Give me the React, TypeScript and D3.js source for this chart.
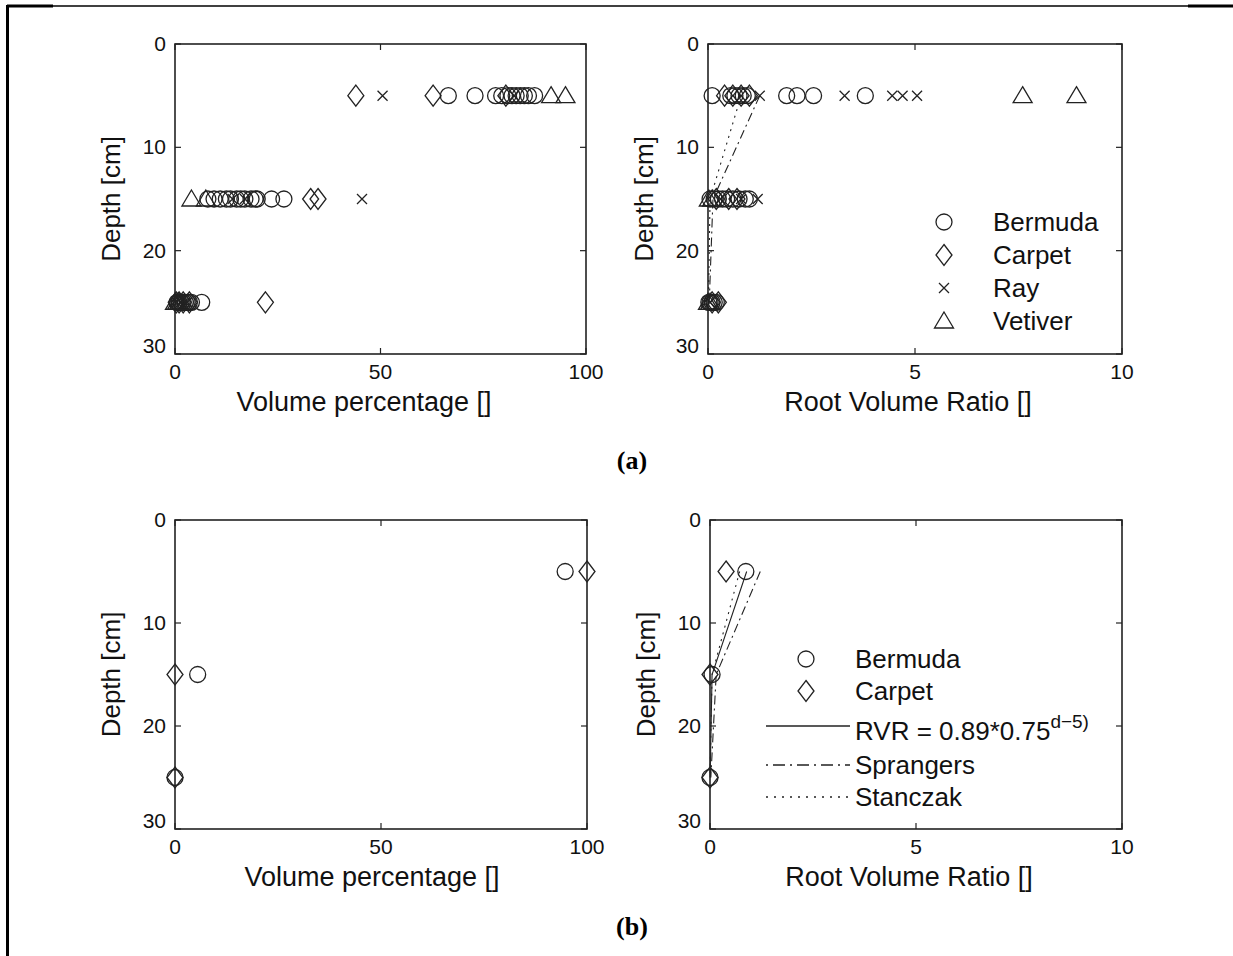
import React from "react";
import * as d3 from "d3";

// ---------- data ----------
const depthTicks = [0, 10, 20, 30];
const volTicks = [0, 50, 100];
const rvrTicks = [0, 5, 10];

// (a) volume percentage : [value, depth]
const aVolBermuda: [number, number][] = [
  [66.5, 5], [73, 5], [78, 5], [79.5, 5], [81, 5], [82, 5], [83, 5], [84, 5], [85, 5], [86, 5], [87.5, 5],
  [8, 15], [9.5, 15], [11, 15], [12.5, 15], [13.5, 15], [15, 15], [16, 15], [17, 15], [18.5, 15], [19.5, 15], [20, 15], [23.5, 15], [26.5, 15],
  [0.5, 25], [1, 25], [1.5, 25], [2, 25], [2.5, 25], [3, 25], [3.5, 25], [4, 25], [6.5, 25],
];
const aVolCarpet: [number, number][] = [
  [44, 5], [62.8, 5], [80.5, 5],
  [33, 15], [34.8, 15],
  [0.3, 25], [1, 25], [2, 25], [3.5, 25], [22, 25],
];
const aVolRay: [number, number][] = [
  [50.5, 5], [82.5, 5],
  [14, 15], [17, 15], [45.5, 15],
  [0.5, 25], [1.5, 25], [2.5, 25], [3, 25],
];
const aVolVetiver: [number, number][] = [
  [91.5, 5], [95, 5],
  [4, 15], [7.5, 15],
  [0, 25], [0.5, 25], [1, 25],
];

// (a) root volume ratio : [value, depth]
const aRvrBermuda: [number, number][] = [
  [0.1, 5], [0.55, 5], [0.65, 5], [0.75, 5], [0.85, 5], [0.95, 5], [1.9, 5], [2.15, 5], [2.55, 5], [3.8, 5],
  [0.05, 15], [0.15, 15], [0.25, 15], [0.35, 15], [0.45, 15], [0.6, 15], [0.75, 15], [0.9, 15], [1.0, 15],
  [0.02, 25], [0.05, 25], [0.1, 25], [0.15, 25], [0.2, 25],
];
const aRvrCarpet: [number, number][] = [
  [0.4, 5], [0.6, 5], [0.8, 5], [1.0, 5],
  [0.2, 15], [0.5, 15], [0.7, 15],
  [0.1, 25], [0.25, 25],
];
const aRvrRay: [number, number][] = [
  [1.25, 5], [3.3, 5], [4.45, 5], [4.7, 5], [5.05, 5],
  [0.3, 15], [0.8, 15], [1.2, 15],
  [0.05, 25],
];
const aRvrVetiver: [number, number][] = [
  [7.6, 5], [8.9, 5],
  [0.02, 15], [0.1, 15],
  [0.0, 25], [0.05, 25],
];
const aSprangers: [number, number][] = [[1.25, 5], [0.12, 15], [0.03, 25]];
const aStanczak: [number, number][] = [[0.8, 5], [0.05, 15], [0.01, 25]];

// (b) volume percentage
const bVolBermuda: [number, number][] = [[94.7, 5], [5.5, 15], [0, 25]];
const bVolCarpet: [number, number][] = [[100, 5], [0, 15], [0, 25]];
// (b) root volume ratio
const bRvrBermuda: [number, number][] = [[0.87, 5], [0.05, 15], [0.0, 25]];
const bRvrCarpet: [number, number][] = [[0.39, 5], [0.0, 15], [0.0, 25]];
const bFit: [number, number][] = [[0.89, 5], [0.05, 15], [0.003, 25]];
const bSprangers: [number, number][] = [[1.22, 5], [0.15, 15], [0.02, 25]];
const bStanczak: [number, number][] = [[0.72, 5], [0.05, 15], [0.0, 25]];

const legendA = ["Bermuda", "Carpet", "Ray", "Vetiver"];
const legendB = ["Bermuda", "Carpet"];

// ---------- drawing helpers ----------
const INK = "#222";
const FONT = "'Liberation Sans', Arial, Helvetica, sans-serif";
const TICK_FS = 21;
const LABEL_FS = 27;
const LEG_FS = 26;

type Shape = "circle" | "diamond" | "cross" | "triangle";

function Marker({ shape, x, y }: { shape: Shape; x: number; y: number }) {
  const common = { fill: "none", stroke: INK, strokeWidth: 1.3 };
  if (shape === "circle") return <circle cx={x} cy={y} r={8} {...common} />;
  if (shape === "diamond")
    return <path d={`M${x},${y - 10.5}L${x + 8},${y}L${x},${y + 10.5}L${x - 8},${y}Z`} {...common} />;
  if (shape === "cross")
    return <path d={`M${x - 5},${y - 5}L${x + 5},${y + 5}M${x - 5},${y + 5}L${x + 5},${y - 5}`} {...common} />;
  return <path d={`M${x},${y - 9}L${x + 9.5},${y + 7}L${x - 9.5},${y + 7}Z`} {...common} />;
}

interface PanelProps {
  left: number;
  right: number;
  top: number;
  bottom: number;
  xMax: number;
  xTicks: number[];
  xLabel: string;
  labelCenter: number;
  series: { shape: Shape; data: [number, number][] }[];
  lines?: { data: [number, number][]; dash: string }[];
}

function Panel({ left, right, top, bottom, xMax, xTicks, xLabel, labelCenter, series, lines = [] }: PanelProps) {
  const x = d3.scaleLinear().domain([0, xMax]).range([left, right]);
  const y = d3.scaleLinear().domain([0, 30]).range([top, bottom]);
  const line = d3
    .line<[number, number]>()
    .x((d) => x(d[0]))
    .y((d) => y(d[1]));
  const tl = 6;
  return (
    <g>
      {lines.map((l, i) => (
        <path key={i} d={line(l.data) || ""} fill="none" stroke={INK} strokeWidth={1.1} strokeDasharray={l.dash} />
      ))}
      {series.map((s, i) =>
        s.data.map((d, j) => <Marker key={`${i}-${j}`} shape={s.shape} x={x(d[0])} y={y(d[1])} />)
      )}
      <rect x={left} y={top} width={right - left} height={bottom - top} fill="none" stroke={INK} strokeWidth={1.6} />
      {depthTicks.map((t) => (
        <g key={`y${t}`}>
          <line x1={left} x2={left + tl} y1={y(t)} y2={y(t)} stroke={INK} strokeWidth={1.2} />
          <line x1={right} x2={right - tl} y1={y(t)} y2={y(t)} stroke={INK} strokeWidth={1.2} />
          <text
            x={left - 9}
            y={t === 30 ? y(t) - 1 : y(t) + 7}
            textAnchor="end"
            fontSize={TICK_FS}
            fontFamily={FONT}
            fill="#111"
          >
            {t}
          </text>
        </g>
      ))}
      {xTicks.map((t) => (
        <g key={`x${t}`}>
          <line x1={x(t)} x2={x(t)} y1={bottom} y2={bottom - tl} stroke={INK} strokeWidth={1.2} />
          <line x1={x(t)} x2={x(t)} y1={top} y2={top + tl} stroke={INK} strokeWidth={1.2} />
          <text x={x(t)} y={bottom + 25} textAnchor="middle" fontSize={TICK_FS} fontFamily={FONT} fill="#111">
            {t}
          </text>
        </g>
      ))}
      <text
        transform={`translate(${left - 55},${(top + bottom) / 2}) rotate(-90)`}
        textAnchor="middle"
        fontSize={LABEL_FS - 1}
        fontFamily={FONT}
        fill="#111"
      >
        Depth [cm]
      </text>
      <text x={labelCenter} y={bottom + 57} textAnchor="middle" fontSize={LABEL_FS} fontFamily={FONT} fill="#111">
        {xLabel}
      </text>
    </g>
  );
}

export default function App() {
  const shapesA: Shape[] = ["circle", "diamond", "cross", "triangle"];
  return (
    <svg
      width={1233}
      height={956}
      style={{ position: "absolute", left: 0, top: 0, display: "block", background: "#fff" }}
    >
      <rect x={0} y={0} width={1233} height={956} fill="#fff" />
      {/* page frame */}
      <line x1={7} x2={1233} y1={6} y2={6} stroke="#000" strokeWidth={1.3} />
      <line x1={7} x2={53} y1={6} y2={6} stroke="#000" strokeWidth={3} />
      <line x1={1188} x2={1233} y1={6} y2={6} stroke="#000" strokeWidth={3} />
      <line x1={7.5} x2={7.5} y1={5} y2={956} stroke="#000" strokeWidth={3} />

      {/* (a) left */}
      <Panel
        left={175}
        right={586}
        top={44}
        bottom={354}
        xMax={100}
        xTicks={volTicks}
        xLabel="Volume percentage []"
        labelCenter={364}
        series={[
          { shape: "circle", data: aVolBermuda },
          { shape: "diamond", data: aVolCarpet },
          { shape: "cross", data: aVolRay },
          { shape: "triangle", data: aVolVetiver },
        ]}
      />
      {/* (a) right */}
      <Panel
        left={708}
        right={1122}
        top={44}
        bottom={354}
        xMax={10}
        xTicks={rvrTicks}
        xLabel="Root Volume Ratio []"
        labelCenter={908}
        series={[
          { shape: "circle", data: aRvrBermuda },
          { shape: "diamond", data: aRvrCarpet },
          { shape: "cross", data: aRvrRay },
          { shape: "triangle", data: aRvrVetiver },
        ]}
        lines={[
          { data: aSprangers, dash: "9,4,2,4" },
          { data: aStanczak, dash: "2,5" },
        ]}
      />
      {/* legend (a) */}
      {legendA.map((name, i) => (
        <g key={name}>
          <Marker shape={shapesA[i]} x={944} y={222 + i * 33} />
          <text x={993} y={231 + i * 33} fontSize={LEG_FS} fontFamily={FONT} fill="#111">
            {name}
          </text>
        </g>
      ))}
      <text x={632} y={469} textAnchor="middle" fontSize={26} fontWeight="bold" fontFamily="'Liberation Serif', 'Times New Roman', serif">
        (a)
      </text>

      {/* (b) left */}
      <Panel
        left={175}
        right={587}
        top={520}
        bottom={829}
        xMax={100}
        xTicks={volTicks}
        xLabel="Volume percentage []"
        labelCenter={372}
        series={[
          { shape: "circle", data: bVolBermuda },
          { shape: "diamond", data: bVolCarpet },
        ]}
      />
      {/* (b) right */}
      <Panel
        left={710}
        right={1122}
        top={520}
        bottom={829}
        xMax={10}
        xTicks={rvrTicks}
        xLabel="Root Volume Ratio []"
        labelCenter={909}
        series={[
          { shape: "circle", data: bRvrBermuda },
          { shape: "diamond", data: bRvrCarpet },
        ]}
        lines={[
          { data: bFit, dash: "" },
          { data: bSprangers, dash: "9,4,2,4" },
          { data: bStanczak, dash: "2,5" },
        ]}
      />
      {/* legend (b) */}
      {legendB.map((name, i) => (
        <g key={name}>
          <Marker shape={i === 0 ? "circle" : "diamond"} x={806} y={659 + i * 32} />
          <text x={855} y={668 + i * 32} fontSize={LEG_FS} fontFamily={FONT} fill="#111">
            {name}
          </text>
        </g>
      ))}
      <line x1={766} x2={850} y1={726} y2={726} stroke={INK} strokeWidth={1.3} />
      <text x={855} y={740} fontSize={LEG_FS} fontFamily={FONT} fill="#111">
        RVR = 0.89*0.75
        <tspan dy={-12} fontSize={19}>
          d−5)
        </tspan>
      </text>
      <line x1={766} x2={850} y1={765} y2={765} stroke={INK} strokeWidth={1.3} strokeDasharray="2,5,12,5" />
      <text x={855} y={774} fontSize={LEG_FS} fontFamily={FONT} fill="#111">
        Sprangers
      </text>
      <line x1={766} x2={850} y1={797} y2={797} stroke={INK} strokeWidth={1.3} strokeDasharray="2,6" />
      <text x={855} y={806} fontSize={LEG_FS} fontFamily={FONT} fill="#111">
        Stanczak
      </text>
      <text x={632} y={935} textAnchor="middle" fontSize={26} fontWeight="bold" fontFamily="'Liberation Serif', 'Times New Roman', serif">
        (b)
      </text>
    </svg>
  );
}
